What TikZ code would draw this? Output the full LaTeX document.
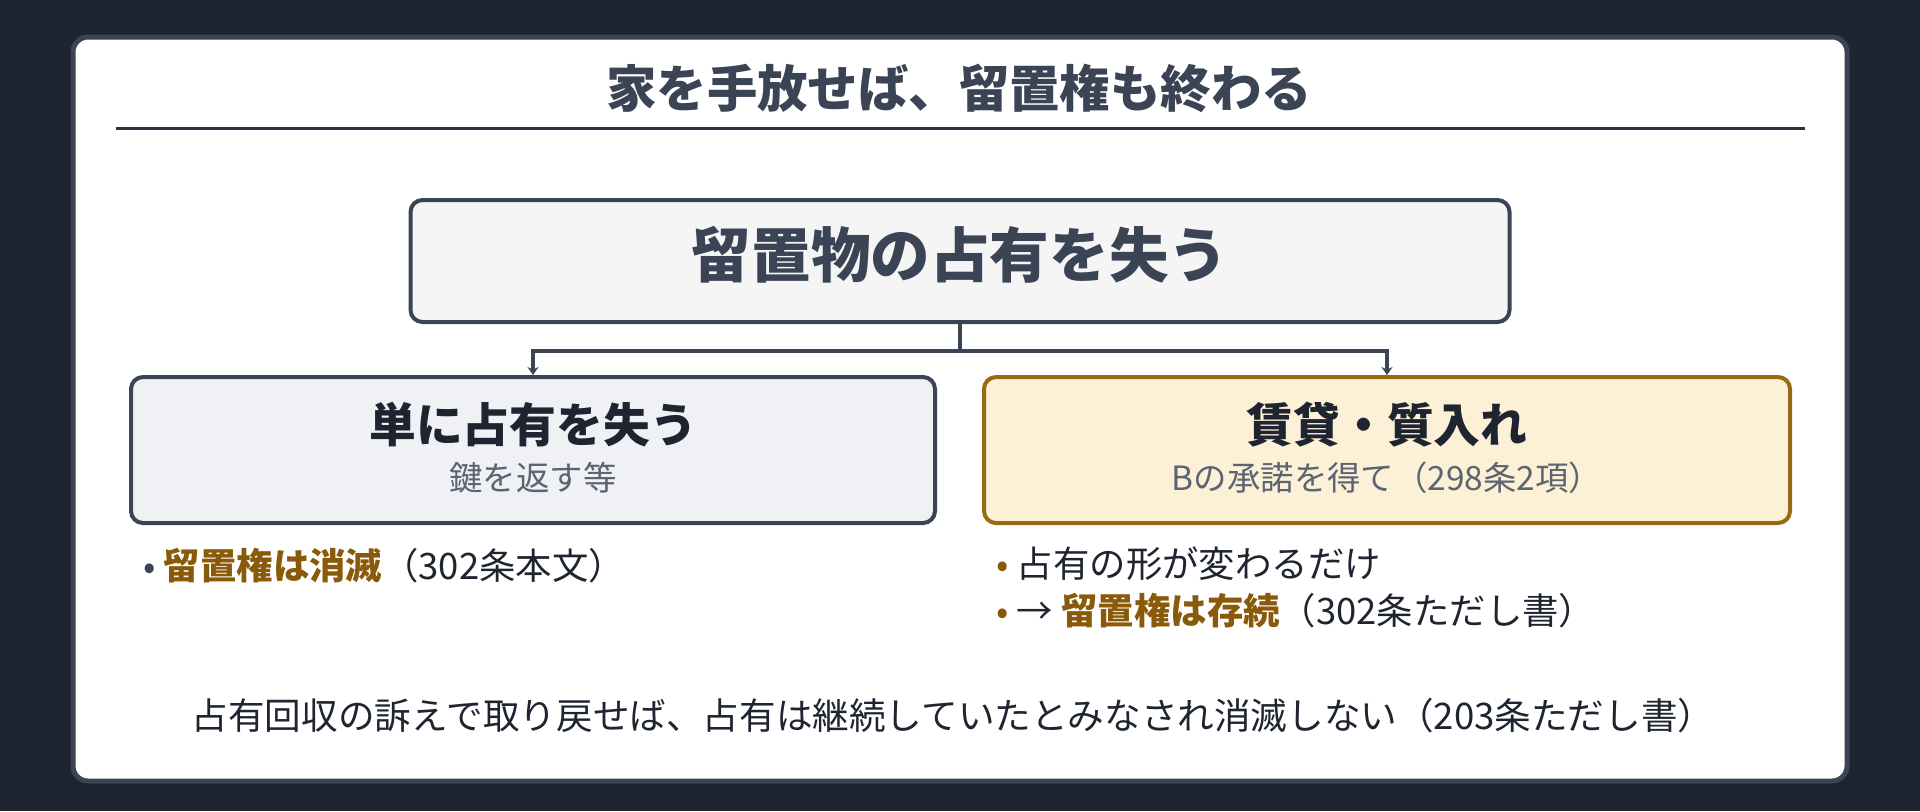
\documentclass[tikz,border=0pt]{standalone}
\usepackage{fontspec}
\setmainfont{Noto Sans CJK JP}
\usetikzlibrary{arrows.meta}
\definecolor{bg}{HTML}{1E2430}
\definecolor{edge}{HTML}{3A4454}
\definecolor{rulec}{HTML}{2B3340}
\definecolor{topfill}{HTML}{F5F5F6}
\definecolor{lfill}{HTML}{EFF1F5}
\definecolor{rfill}{HTML}{FCF0D6}
\definecolor{redge}{HTML}{9A6A12}
\definecolor{brown}{HTML}{8A5A0B}
\definecolor{dark}{HTML}{1F2530}
\definecolor{sub}{HTML}{5B6472}
\tikzset{
  card/.style={draw=edge, fill=white, line width=2.5pt, rounded corners=7.5pt},
  topbox/.style={draw=edge, fill=topfill, line width=2pt, rounded corners=6pt,
    minimum width=549.5pt, minimum height=61pt, inner sep=0pt},
  lbox/.style={draw=edge, fill=lfill, line width=2pt, rounded corners=6pt,
    minimum width=402pt, minimum height=73pt, inner sep=0pt},
  rbox/.style={draw=redge, fill=rfill, line width=2pt, rounded corners=6pt,
    minimum width=403pt, minimum height=73pt, inner sep=0pt},
  conn/.style={draw=edge, line width=1.6pt},
  tip/.style={-{Stealth[length=4pt,width=5.5pt]}},
  boxtitle/.style={text=dark, font=\fontsize{23.4}{28}\selectfont\bfseries, inner sep=0pt},
  boxsub/.style={text=sub, font=\fontsize{16.7}{20}\selectfont, inner sep=0pt},
  bullet/.style={text=dark, font=\fontsize{18.2}{22}\selectfont, inner sep=0pt, anchor=west},
}
\begin{document}
\begin{tikzpicture}[x=0.5pt,y=-0.5pt]
\fill[bg] (0,0) rectangle (1920,811);
\useasboundingbox (0,0) rectangle (1920,811);
\path[card] (73,37) rectangle (1847,781);
\node[text=edge, font=\fontsize{25.2}{30}\selectfont\bfseries, inner sep=0pt] (title) at (959,88) {家を手放せば、留置権も終わる};
\coordinate (rl) at (116,128.5);
\coordinate (rr) at (1805,128.5);
\draw[rulec, line width=1.5pt] (rl) -- (rr);
\node[topbox] (top) at (960,261) {};
\node[text=edge, font=\fontsize{29.8}{35}\selectfont\bfseries, inner sep=0pt] (toptext) at (960,255) {留置物の占有を失う};
\node[lbox] (lb) at (533,450) {};
\node[rbox] (rb) at (1387,450) {};
\node[boxtitle] (lt) at (533,425) {単に占有を失う};
\node[boxsub] (ls) at (533,478) {鍵を返す等};
\node[boxtitle] (rt) at (1387,425) {賃貸・質入れ};
\node[boxsub] (rs) at (1387,478) {Bの承諾を得て（298条2項）};
\coordinate (j) at (960,351);
\draw[conn] (top.south) -- (j);
\draw[conn,tip] (j) -| (lb.north);
\draw[conn,tip] (j) -| (rb.north);
\node[bullet] (b1) at (143,566) {{\color{edge}•} {\bfseries\color{brown}留置権は消滅}（302条本文）};
\node[bullet] (b2) at (996,564) {{\color{brown}•} 占有の形が変わるだけ};
\node[bullet] (b3) at (996,611) {{\color{brown}•} → {\bfseries\color{brown}留置権は存続}（302条ただし書）};
\node[text=dark, font=\fontsize{18.3}{22}\selectfont, inner sep=0pt] (foot) at (953,716) {占有回収の訴えで取り戻せば、占有は継続していたとみなされ消滅しない（203条ただし書）};
\end{tikzpicture}
\end{document}
